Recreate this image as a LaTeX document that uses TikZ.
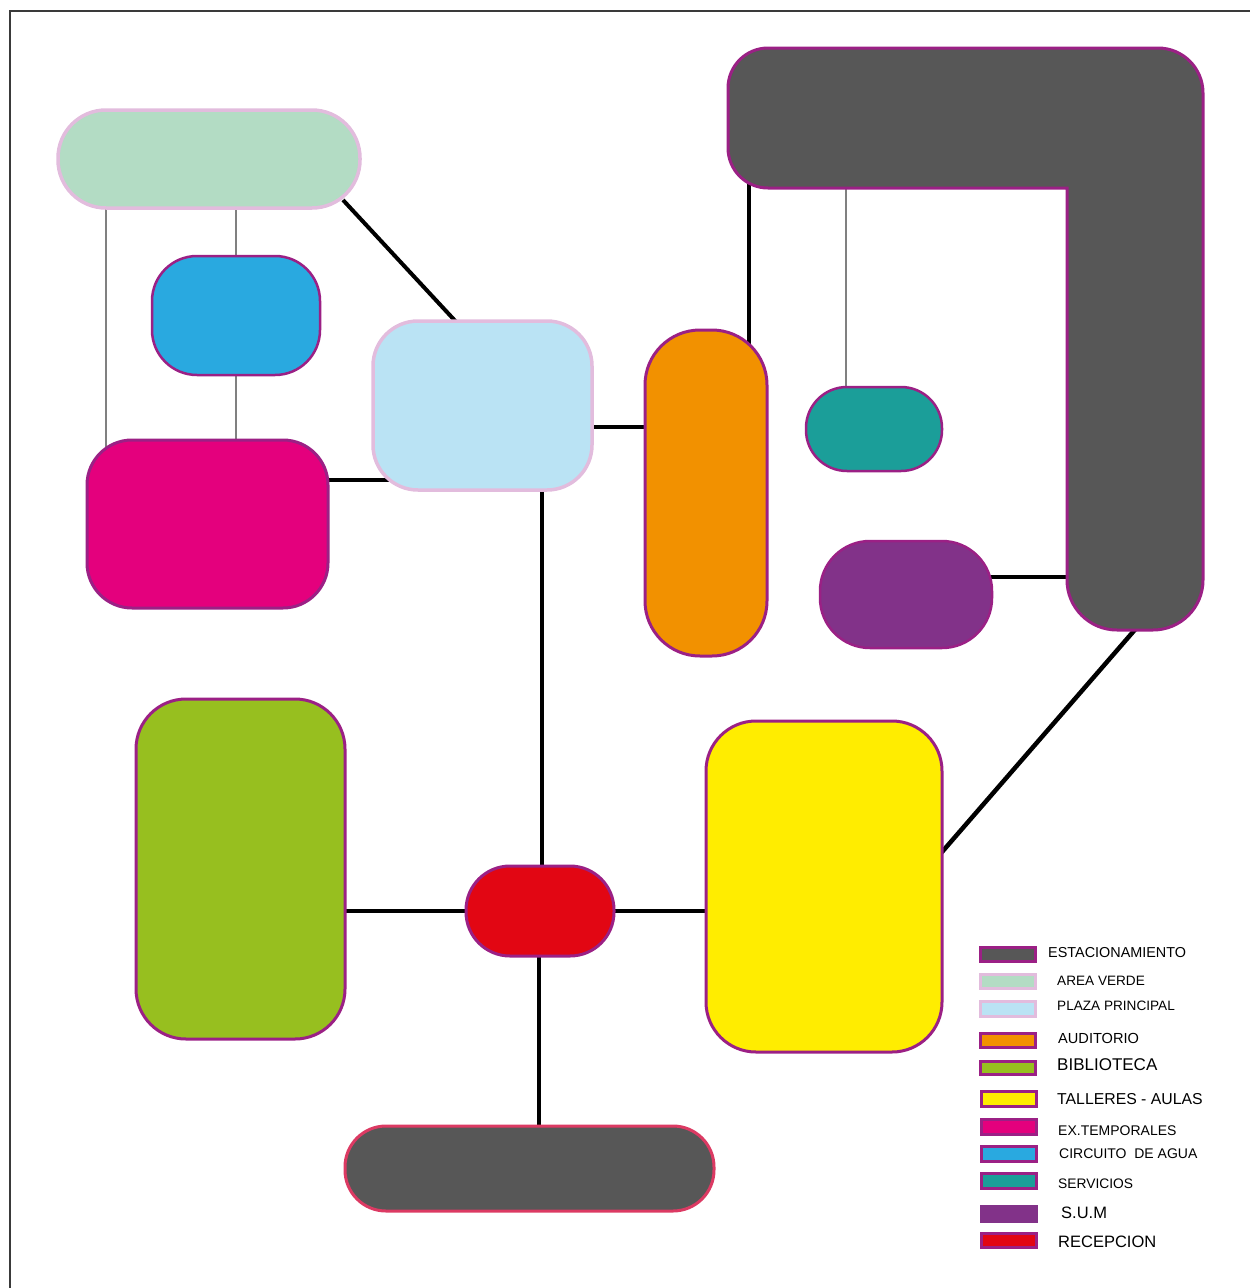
\documentclass[tikz,border=0pt]{standalone}
\usepackage{fontspec}
\setsansfont{Liberation Sans}
\usetikzlibrary{calc,backgrounds}
\definecolor{estgray}{HTML}{575757}
\definecolor{purpb}{HTML}{9B2085}
\definecolor{pinkb}{HTML}{E2BCDD}
\definecolor{avcol}{HTML}{B3DCC4}
\definecolor{cacol}{HTML}{29A9E0}
\definecolor{plcol}{HTML}{BAE3F4}
\definecolor{excol}{HTML}{E4007D}
\definecolor{aucol}{HTML}{F29100}
\definecolor{secol}{HTML}{1B9E99}
\definecolor{sucol}{HTML}{823289}
\definecolor{bicol}{HTML}{97BF1F}
\definecolor{tacol}{HTML}{FFED00}
\definecolor{recol}{HTML}{E20613}
\definecolor{redb}{HTML}{DC3A63}
\definecolor{framec}{HTML}{3A3A3A}
\definecolor{graylink}{HTML}{808080}
\tikzset{
  room/.style={draw=purpb, line width=3, inner sep=0, outer sep=0},
  paleroom/.style={draw=pinkb, line width=3.5, inner sep=0, outer sep=0},
  link/.style={draw=black, line width=4.5},
  thinlink/.style={draw=graylink, line width=2},
  swatch/.style={line width=3},
  legtext/.style={anchor=west, inner sep=0, font=\sffamily, text=black}
}
\begin{document}
\begin{tikzpicture}[x=1pt,y=-1pt]
\useasboundingbox (0,0) rectangle (1250,1288);
% frame
\draw[framec, line width=2] (10,1288) -- (10,11) -- (1250,11);

% L-shaped parking
\draw[room, fill=estgray] (900,48) [rounded corners=45] -- (1203,48) [rounded corners=50] -- (1203,630) -- (1067,630) [sharp corners] -- (1067,188) [rounded corners=40] -- (728,188) -- (728,48) -- cycle;
\coordinate (estA) at (749,150);
\coordinate (estB) at (846,150);
\coordinate (estC) at (1110,577);
\coordinate (estD) at (1139,625);

% rooms
\node[paleroom, fill=avcol, minimum width=302, minimum height=98, rounded corners=48] (av) at (209,159) {};
\node[room, line width=2.5, fill=cacol, minimum width=168, minimum height=119, rounded corners=45] (ca) at (236,315.5) {};
\node[paleroom, fill=plcol, minimum width=219, minimum height=169, rounded corners=45] (pl) at (482.5,405.5) {};
\node[room, fill=excol, minimum width=241, minimum height=168, rounded corners=45] (ex) at (207.5,524) {};
\node[room, fill=aucol, minimum width=122, minimum height=326, rounded corners=55] (au) at (706,493) {};
\node[room, line width=2.5, fill=secol, minimum width=136, minimum height=84, rounded corners=41] (se) at (874,429) {};
\node[room, line width=2.5, fill=sucol, minimum width=172, minimum height=107, rounded corners=50] (su) at (906,594.5) {};
\node[room, fill=bicol, minimum width=209, minimum height=340, rounded corners=50] (bi) at (240.5,869) {};
\node[room, fill=tacol, minimum width=236, minimum height=331, rounded corners=50] (ta) at (824,886.5) {};
\node[room, fill=recol, minimum width=148, minimum height=90, rounded corners=44] (re) at (540,911) {};
\node[draw=redb, line width=3, inner sep=0, fill=estgray, minimum width=369, minimum height=85, rounded corners=41] (be) at (529.5,1168.5) {};

% connectors (behind)
\begin{pgfonlayer}{background}
\draw[link, line width=4] ($(av.south east)+(-17,-8)$) -- ($(pl.north west)+(86,4)$);
\draw[thinlink] (ca.north |- av.center) -- (ca.center);
\draw[thinlink] (ca.center) -- (ca.center |- ex.center);
\draw[thinlink] ($(av.center)+(-103,0)$) -- ($(ex.center)+(-101.5,-40)$);
\coordinate (exr) at ($(ex.center)+(0,-44)$);
\draw[link] (exr) -- (exr -| pl.center);
\coordinate (pla) at ($(pl.center)+(0,21.5)$);
\draw[link] (pla) -- (pla -| au.center);
\draw[link] ($(re.center)+(2,0)$) -- ($(re.center |- pl.center)+(2,0)$);
\draw[link] (estA) -- (estA |- au.center);
\draw[thinlink] (estB) -- (estB |- se.center);
\draw[link] (estC) -- (estC -| su.center);
\draw[link] (estD) -- ($(ta.east)+(-10,-23)$);
\draw[link] (re.center) -- (re.center -| bi.center);
\draw[link] (re.center) -- (re.center -| ta.center);
\draw[link] ($(re.center)+(-1,0)$) -- ($(re.center |- be.center)+(-1,0)$);
\end{pgfonlayer}

% legend
\draw[swatch, draw=purpb, fill=estgray] (980,947) rectangle (1035,961);
\draw[swatch, draw=pinkb, fill=avcol] (980,974) rectangle (1035,988);
\draw[swatch, draw=pinkb, fill=plcol] (980,1001) rectangle (1035,1016);
\draw[swatch, draw=purpb, fill=aucol] (980,1033) rectangle (1035,1047);
\draw[swatch, draw=purpb, fill=bicol] (980,1061) rectangle (1035,1074);
\draw[swatch, draw=purpb, fill=tacol] (981,1091) rectangle (1036,1106);
\draw[swatch, draw=purpb, fill=excol] (981,1119) rectangle (1036,1134);
\draw[swatch, draw=purpb, fill=cacol] (981,1146) rectangle (1036,1161);
\draw[swatch, draw=purpb, fill=secol] (981,1173) rectangle (1036,1188);
\draw[swatch, draw=sucol, fill=sucol] (981,1206) rectangle (1036,1221);
\draw[swatch, draw=purpb, fill=recol] (981,1233) rectangle (1036,1247);

\node[legtext] (l1) at (1048,952.5) {\fontsize{14.4}{16}\selectfont ESTACIONAMIENTO};
\node[legtext] (l2) at (1057,981) {\fontsize{13.6}{16}\selectfont AREA VERDE};
\node[legtext] (l3) at (1057,1005.5) {\fontsize{13.6}{16}\selectfont PLAZA PRINCIPAL};
\node[legtext] (l4) at (1058,1038) {\fontsize{14.6}{16}\selectfont AUDITORIO};
\node[legtext] (l5) at (1057,1064.5) {\fontsize{17}{18}\selectfont BIBLIOTECA};
\node[legtext] (l6) at (1057,1099.5) {\fontsize{15.8}{18}\selectfont TALLERES - AULAS};
\node[legtext] (l7) at (1058,1131) {\fontsize{14}{16}\selectfont EX.TEMPORALES};
\node[legtext] (l8) at (1059,1153.5) {\fontsize{14}{16}\selectfont CIRCUITO \ DE AGUA};
\node[legtext] (l9) at (1058,1183.5) {\fontsize{13.8}{16}\selectfont SERVICIOS};
\node[legtext] (l10) at (1061,1212.5) {\fontsize{16.5}{18}\selectfont S.U.M};
\node[legtext] (l11) at (1058,1241.5) {\fontsize{16.5}{18}\selectfont RECEPCION};
\end{tikzpicture}
\end{document}
